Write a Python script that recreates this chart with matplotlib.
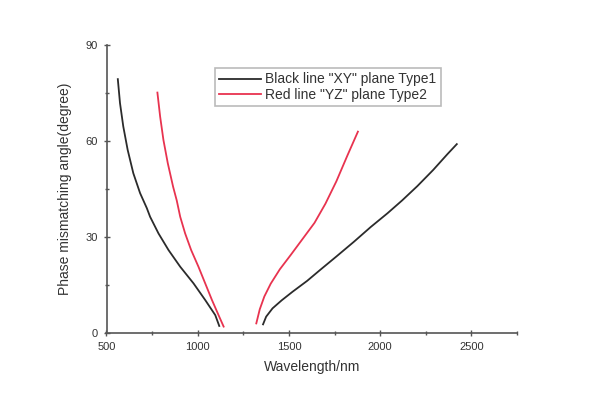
import matplotlib
matplotlib.use("Agg")
import matplotlib.pyplot as plt
from matplotlib.ticker import MultipleLocator

plt.rcParams['font.family'] = ['Liberation Sans', 'DejaVu Sans']

# Black line "XY" plane Type1 (left branch and right branch)
black_left_x = [562, 574, 592, 616, 647, 684, 721, 739, 785, 840, 904, 977, 1041, 1096, 1118]
black_left_y = [79.4, 71.9, 64.6, 57.3, 50.0, 43.8, 39.1, 36.4, 31.2, 26.0, 20.8, 15.6, 10.4, 5.7, 2.3]
black_right_x = [1358, 1375, 1410, 1460, 1520, 1600, 1673, 1760, 1856, 1948, 2040, 2120, 2204, 2290, 2369, 2420]
black_right_y = [2.8, 5.2, 7.8, 10.3, 13.0, 16.4, 19.9, 24.0, 28.6, 33.2, 37.5, 41.5, 46.0, 51.0, 56.0, 59.1]

# Red line "YZ" plane Type2
red_left_x = [779, 794, 812, 836, 865, 885, 904, 931, 964, 1004, 1041, 1078, 1114, 1142]
red_left_y = [75.2, 67.7, 60.4, 53.1, 45.8, 41.5, 36.4, 31.2, 26.0, 20.8, 15.6, 10.4, 5.7, 2.1]
red_right_x = [1321, 1340, 1365, 1400, 1450, 1510, 1575, 1640, 1700, 1760, 1820, 1878]
red_right_y = [3.1, 7.5, 11.5, 15.5, 20.0, 24.5, 29.5, 34.5, 40.5, 47.5, 55.5, 63.0]

labels = ['Black line "XY" plane Type1', 'Red line "YZ" plane Type2']
xticks = [500, 1000, 1500, 2000, 2500]
yticks = [0, 30, 60, 90]

black = '#2b2b2b'
red = '#e8334f'
txt = '#333333'

fig = plt.figure(figsize=(6, 4), dpi=100)
ax = fig.add_axes([0.1775, 0.1667, 0.8617 - 0.1775, 0.887 - 0.1667])

ax.plot(black_left_x, black_left_y, color=black, lw=1.3, label=labels[0])
ax.plot(black_right_x, black_right_y, color=black, lw=1.3)
ax.plot(red_left_x, red_left_y, color=red, lw=1.3, label=labels[1])
ax.plot(red_right_x, red_right_y, color=red, lw=1.3)

ax.set_xlim(500, 2750)
ax.set_ylim(0, 90)
ax.set_xticks(xticks)
ax.set_yticks(yticks)
ax.xaxis.set_minor_locator(MultipleLocator(250))
ax.yaxis.set_minor_locator(MultipleLocator(15))

for s in ['top', 'right']:
    ax.spines[s].set_visible(False)
for s in ['left', 'bottom']:
    ax.spines[s].set_color('#555555')
    ax.spines[s].set_linewidth(1.2)

ax.tick_params(which='major', direction='inout', length=5, width=1, colors='#555555',
               labelsize=8, labelcolor=txt)
ax.tick_params(which='minor', direction='inout', length=3, width=1, colors='#555555')

ax.set_xlabel('Wavelength/nm', fontsize=10, color=txt, labelpad=6)
ax.set_ylabel('Phase mismatching angle(degree)', fontsize=10, color=txt, labelpad=10)

leg = ax.legend(loc='upper left', bbox_to_anchor=(0.265, 0.92), fontsize=10,
                frameon=True, fancybox=False, borderpad=0.3, handlelength=3,
                handletextpad=0.3, labelspacing=0.1, borderaxespad=0)
leg.get_frame().set_edgecolor('#aaaaaa')
leg.get_frame().set_linewidth(1.2)
for t in leg.get_texts():
    t.set_color(txt)

fig.savefig('out.png', dpi=100)
